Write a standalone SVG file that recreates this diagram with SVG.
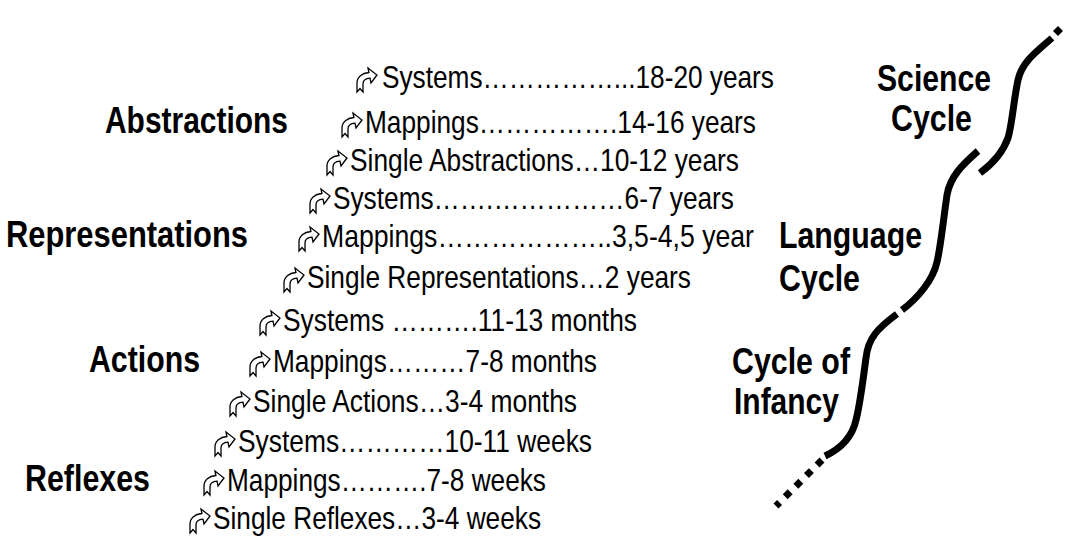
<svg xmlns="http://www.w3.org/2000/svg" xmlns:xlink="http://www.w3.org/1999/xlink" width="1066" height="536" viewBox="0 0 1066 536">
<style>
.r{font-family:"Liberation Sans",Arial,sans-serif;font-size:32px;fill:#000}
.b{font-family:"Liberation Sans",Arial,sans-serif;font-size:37px;font-weight:bold;fill:#000}
.c{fill:none;stroke:#000;stroke-width:7}
.d{fill:none;stroke:#000;stroke-width:7;stroke-dasharray:7 8}
</style>
<defs>
<path id="arr" d="M2,24 L2,15 C2,9 7,5 13.9,4.5 L13,0 L22,7 L16,15 L15,10.2 C11,10.5 8,12 8,16 L8,24 L5,20.5 Z" fill="#fff" stroke="#000" stroke-width="1.3" stroke-linejoin="miter"/>
</defs>
<g id="science-cycle-label">
<text class="b" transform="translate(877,91) scale(0.82,1)" textLength="139" lengthAdjust="spacingAndGlyphs">Science</text>
<text class="b" transform="translate(891,131) scale(0.82,1)" textLength="98.8" lengthAdjust="spacingAndGlyphs">Cycle</text>
</g>
<g id="language-cycle-label">
<text class="b" transform="translate(779,248) scale(0.82,1)" textLength="174.4" lengthAdjust="spacingAndGlyphs">Language</text>
<text class="b" transform="translate(779,291) scale(0.82,1)" textLength="98.8" lengthAdjust="spacingAndGlyphs">Cycle</text>
</g>
<g id="infancy-cycle-label">
<text class="b" transform="translate(732,374) scale(0.82,1)" textLength="143.9" lengthAdjust="spacingAndGlyphs">Cycle of</text>
<text class="b" transform="translate(734,414) scale(0.82,1)" textLength="128" lengthAdjust="spacingAndGlyphs">Infancy</text>
</g>
<g id="abstractions"><text class="b" transform="translate(105,133) scale(0.82,1)" textLength="223.2" lengthAdjust="spacingAndGlyphs">Abstractions</text></g>
<g id="representations"><text class="b" transform="translate(6,247) scale(0.82,1)" textLength="295.1" lengthAdjust="spacingAndGlyphs">Representations</text></g>
<g id="actions"><text class="b" transform="translate(89,372) scale(0.82,1)" textLength="135.4" lengthAdjust="spacingAndGlyphs">Actions</text></g>
<g id="reflexes"><text class="b" transform="translate(25,491) scale(0.82,1)" textLength="152.4" lengthAdjust="spacingAndGlyphs">Reflexes</text></g>
<g id="l1"><use xlink:href="#arr" x="355" y="68"/><text class="r" transform="translate(382,88) scale(0.82,1)" textLength="478" lengthAdjust="spacingAndGlyphs">Systems……………...18-20 years</text></g>
<g id="l2"><use xlink:href="#arr" x="340" y="113"/><text class="r" transform="translate(365,133) scale(0.82,1)" textLength="476.8" lengthAdjust="spacingAndGlyphs">Mappings…………….14-16 years</text></g>
<g id="l3"><use xlink:href="#arr" x="325" y="151"/><text class="r" transform="translate(350,171) scale(0.82,1)" textLength="474.4" lengthAdjust="spacingAndGlyphs">Single Abstractions…10-12 years</text></g>
<g id="l4"><use xlink:href="#arr" x="308" y="189"/><text class="r" transform="translate(333,209) scale(0.82,1)" textLength="489" lengthAdjust="spacingAndGlyphs">Systems…….……………6-7 years</text></g>
<g id="l5"><use xlink:href="#arr" x="297" y="227"/><text class="r" transform="translate(322,247) scale(0.82,1)" textLength="526.8" lengthAdjust="spacingAndGlyphs">Mappings………………..3,5-4,5 year</text></g>
<g id="l6"><use xlink:href="#arr" x="282" y="268"/><text class="r" transform="translate(307,288) scale(0.82,1)" textLength="468.3" lengthAdjust="spacingAndGlyphs">Single Representations…2 years</text></g>
<g id="l7"><use xlink:href="#arr" x="258" y="311"/><text class="r" transform="translate(283,331) scale(0.82,1)" textLength="431.7" lengthAdjust="spacingAndGlyphs">Systems ……….11-13 months</text></g>
<g id="l8"><use xlink:href="#arr" x="248" y="352"/><text class="r" transform="translate(273,372) scale(0.82,1)" textLength="395.1" lengthAdjust="spacingAndGlyphs">Mappings………7-8 months</text></g>
<g id="l9"><use xlink:href="#arr" x="228" y="392"/><text class="r" transform="translate(253,412) scale(0.82,1)" textLength="395.1" lengthAdjust="spacingAndGlyphs">Single Actions…3-4 months</text></g>
<g id="l10"><use xlink:href="#arr" x="213" y="432"/><text class="r" transform="translate(238,452) scale(0.82,1)" textLength="431.7" lengthAdjust="spacingAndGlyphs">Systems…………10-11 weeks</text></g>
<g id="l11"><use xlink:href="#arr" x="202" y="471"/><text class="r" transform="translate(227,491) scale(0.82,1)" textLength="389" lengthAdjust="spacingAndGlyphs">Mappings……….7-8 weeks</text></g>
<g id="l12"><use xlink:href="#arr" x="188" y="509"/><text class="r" transform="translate(213,529) scale(0.82,1)" textLength="400" lengthAdjust="spacingAndGlyphs">Single Reflexes…3-4 weeks</text></g>
<g id="connectors">
<path class="c" d="M1052,38 C1035,53 1022,62 1018,80 C1014,98 1012,125 1008,138 C1003,152 995,162 980,173"/>
<path class="c" d="M1055.5,33.5 L1060.5,28.5"/>
<path class="c" d="M978,151 C962,165 950,177 947,195 C944,215 941,245 937,262 C933,280 918,298 902,310"/>
<path class="c" d="M897,314 C878,328 868,338 866,358 C863,380 860,405 856,420 C852,438 840,449 825,456"/>
<path class="d" d="M822,460 L776,506"/>
</g>
</svg>
